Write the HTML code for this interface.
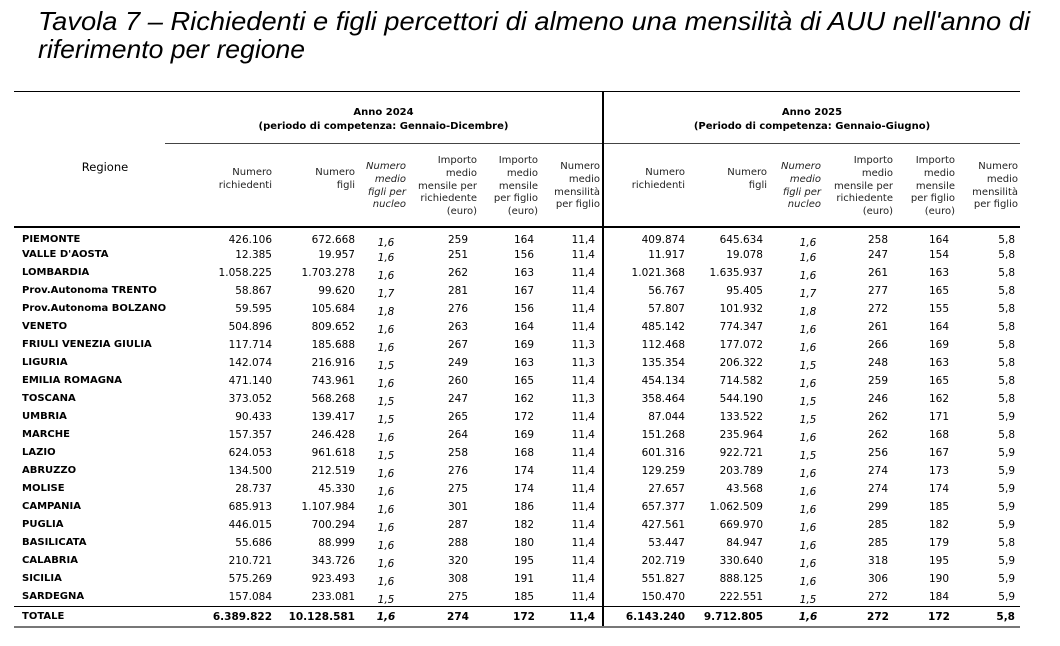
<!DOCTYPE html>
<html><head><meta charset="utf-8">
<style>
body{margin:0;background:#fff;width:1060px;height:646px;position:relative;overflow:hidden;font-family:"DejaVu Sans","Liberation Sans",sans-serif;color:#000}
.a{position:absolute}
.ln{position:absolute;background:#000}
.r{position:absolute;height:18px;left:0;width:1060px;font-size:10.5px;line-height:14px}
.r span{position:absolute;top:0;white-space:nowrap}
.n{left:22px;font-weight:bold;font-size:10px}
.c1{left:192px;width:80px;text-align:right}
.c2{left:275px;width:80px;text-align:right}
.c3{left:361px;width:50px;text-align:center;font-style:italic;top:3px!important}
.c4{left:423px;width:70px;text-align:center}
.c5{left:494px;width:60px;text-align:center}
.c6{left:545px;width:50px;text-align:right}
.c7{left:605px;width:80px;text-align:right}
.c8{left:683px;width:80px;text-align:right}
.c9{left:783px;width:50px;text-align:center;font-style:italic;top:3px!important}
.c10{left:843px;width:70px;text-align:center}
.c11{left:909px;width:60px;text-align:center}
.c12{left:965px;width:50px;text-align:right}
.h{position:absolute;font-size:10px;line-height:12.8px;text-align:right;color:#222}
.hi{font-style:italic}
.tot span{font-weight:bold}
</style></head><body>
<svg class="a" style="left:0;top:0" width="1060" height="70">
<text x="38" y="30" font-family="Liberation Sans, sans-serif" font-style="italic" font-size="26" textLength="992" lengthAdjust="spacingAndGlyphs">Tavola 7 – Richiedenti e figli percettori di almeno una mensilità di AUU nell'anno di</text>
<text x="38" y="58" font-family="Liberation Sans, sans-serif" font-style="italic" font-size="26" textLength="267" lengthAdjust="spacingAndGlyphs">riferimento per regione</text>
</svg>
<div class="ln" style="left:14px;top:91px;width:1006px;height:1px"></div>
<div class="ln" style="left:165px;top:143px;width:855px;height:1px;background:#444"></div>
<div class="ln" style="left:14px;top:226px;width:1006px;height:2px"></div>
<div class="ln" style="left:602px;top:91px;width:2px;height:536px"></div>
<div class="ln" style="left:14px;top:606px;width:1006px;height:1px"></div>
<div class="ln" style="left:14px;top:626px;width:1006px;height:2px;background:#777"></div>

<div class="a" style="left:165px;top:106px;width:437px;text-align:center;font-size:10px;font-weight:bold;line-height:14px">Anno 2024<br>(periodo di competenza: Gennaio-Dicembre)</div>
<div class="a" style="left:604px;top:106px;width:416px;text-align:center;font-size:10px;font-weight:bold;line-height:14px">Anno 2025<br>(Periodo di competenza: Gennaio-Giugno)</div>
<div class="a" style="left:75px;top:160px;width:60px;text-align:center;font-size:11.5px">Regione</div>

<div class="h" style="left:192px;top:167px;width:80px">Numero<br>richiedenti</div>
<div class="h" style="left:295px;top:167px;width:60px">Numero<br>figli</div>
<div class="h hi" style="left:346px;top:161px;width:60px">Numero<br>medio<br>figli per<br>nucleo</div>
<div class="h" style="left:400px;top:155px;width:77px">Importo<br>medio<br>mensile per<br>richiedente<br>(euro)</div>
<div class="h" style="left:476px;top:155px;width:62px">Importo<br>medio<br>mensile<br>per figlio<br>(euro)</div>
<div class="h" style="left:535px;top:161px;width:65px">Numero<br>medio<br>mensilità<br>per figlio</div>

<div class="h" style="left:605px;top:167px;width:80px">Numero<br>richiedenti</div>
<div class="h" style="left:705px;top:167px;width:62px">Numero<br>figli</div>
<div class="h hi" style="left:761px;top:161px;width:60px">Numero<br>medio<br>figli per<br>nucleo</div>
<div class="h" style="left:815px;top:155px;width:78px">Importo<br>medio<br>mensile per<br>richiedente<br>(euro)</div>
<div class="h" style="left:893px;top:155px;width:62px">Importo<br>medio<br>mensile<br>per figlio<br>(euro)</div>
<div class="h" style="left:953px;top:161px;width:65px">Numero<br>medio<br>mensilità<br>per figlio</div>

<div class="r" style="top:233px"><span class="n">PIEMONTE</span><span class="c1">426.106</span><span class="c2">672.668</span><span class="c3">1,6</span><span class="c4">259</span><span class="c5">164</span><span class="c6">11,4</span><span class="c7">409.874</span><span class="c8">645.634</span><span class="c9">1,6</span><span class="c10">258</span><span class="c11">164</span><span class="c12">5,8</span></div>
<div class="r" style="top:248px"><span class="n">VALLE D'AOSTA</span><span class="c1">12.385</span><span class="c2">19.957</span><span class="c3">1,6</span><span class="c4">251</span><span class="c5">156</span><span class="c6">11,4</span><span class="c7">11.917</span><span class="c8">19.078</span><span class="c9">1,6</span><span class="c10">247</span><span class="c11">154</span><span class="c12">5,8</span></div>
<div class="r" style="top:266px"><span class="n">LOMBARDIA</span><span class="c1">1.058.225</span><span class="c2">1.703.278</span><span class="c3">1,6</span><span class="c4">262</span><span class="c5">163</span><span class="c6">11,4</span><span class="c7">1.021.368</span><span class="c8">1.635.937</span><span class="c9">1,6</span><span class="c10">261</span><span class="c11">163</span><span class="c12">5,8</span></div>
<div class="r" style="top:284px"><span class="n">Prov.Autonoma TRENTO</span><span class="c1">58.867</span><span class="c2">99.620</span><span class="c3">1,7</span><span class="c4">281</span><span class="c5">167</span><span class="c6">11,4</span><span class="c7">56.767</span><span class="c8">95.405</span><span class="c9">1,7</span><span class="c10">277</span><span class="c11">165</span><span class="c12">5,8</span></div>
<div class="r" style="top:302px"><span class="n">Prov.Autonoma BOLZANO</span><span class="c1">59.595</span><span class="c2">105.684</span><span class="c3">1,8</span><span class="c4">276</span><span class="c5">156</span><span class="c6">11,4</span><span class="c7">57.807</span><span class="c8">101.932</span><span class="c9">1,8</span><span class="c10">272</span><span class="c11">155</span><span class="c12">5,8</span></div>
<div class="r" style="top:320px"><span class="n">VENETO</span><span class="c1">504.896</span><span class="c2">809.652</span><span class="c3">1,6</span><span class="c4">263</span><span class="c5">164</span><span class="c6">11,4</span><span class="c7">485.142</span><span class="c8">774.347</span><span class="c9">1,6</span><span class="c10">261</span><span class="c11">164</span><span class="c12">5,8</span></div>
<div class="r" style="top:338px"><span class="n">FRIULI VENEZIA GIULIA</span><span class="c1">117.714</span><span class="c2">185.688</span><span class="c3">1,6</span><span class="c4">267</span><span class="c5">169</span><span class="c6">11,3</span><span class="c7">112.468</span><span class="c8">177.072</span><span class="c9">1,6</span><span class="c10">266</span><span class="c11">169</span><span class="c12">5,8</span></div>
<div class="r" style="top:356px"><span class="n">LIGURIA</span><span class="c1">142.074</span><span class="c2">216.916</span><span class="c3">1,5</span><span class="c4">249</span><span class="c5">163</span><span class="c6">11,3</span><span class="c7">135.354</span><span class="c8">206.322</span><span class="c9">1,5</span><span class="c10">248</span><span class="c11">163</span><span class="c12">5,8</span></div>
<div class="r" style="top:374px"><span class="n">EMILIA ROMAGNA</span><span class="c1">471.140</span><span class="c2">743.961</span><span class="c3">1,6</span><span class="c4">260</span><span class="c5">165</span><span class="c6">11,4</span><span class="c7">454.134</span><span class="c8">714.582</span><span class="c9">1,6</span><span class="c10">259</span><span class="c11">165</span><span class="c12">5,8</span></div>
<div class="r" style="top:392px"><span class="n">TOSCANA</span><span class="c1">373.052</span><span class="c2">568.268</span><span class="c3">1,5</span><span class="c4">247</span><span class="c5">162</span><span class="c6">11,3</span><span class="c7">358.464</span><span class="c8">544.190</span><span class="c9">1,5</span><span class="c10">246</span><span class="c11">162</span><span class="c12">5,8</span></div>
<div class="r" style="top:410px"><span class="n">UMBRIA</span><span class="c1">90.433</span><span class="c2">139.417</span><span class="c3">1,5</span><span class="c4">265</span><span class="c5">172</span><span class="c6">11,4</span><span class="c7">87.044</span><span class="c8">133.522</span><span class="c9">1,5</span><span class="c10">262</span><span class="c11">171</span><span class="c12">5,9</span></div>
<div class="r" style="top:428px"><span class="n">MARCHE</span><span class="c1">157.357</span><span class="c2">246.428</span><span class="c3">1,6</span><span class="c4">264</span><span class="c5">169</span><span class="c6">11,4</span><span class="c7">151.268</span><span class="c8">235.964</span><span class="c9">1,6</span><span class="c10">262</span><span class="c11">168</span><span class="c12">5,8</span></div>
<div class="r" style="top:446px"><span class="n">LAZIO</span><span class="c1">624.053</span><span class="c2">961.618</span><span class="c3">1,5</span><span class="c4">258</span><span class="c5">168</span><span class="c6">11,4</span><span class="c7">601.316</span><span class="c8">922.721</span><span class="c9">1,5</span><span class="c10">256</span><span class="c11">167</span><span class="c12">5,9</span></div>
<div class="r" style="top:464px"><span class="n">ABRUZZO</span><span class="c1">134.500</span><span class="c2">212.519</span><span class="c3">1,6</span><span class="c4">276</span><span class="c5">174</span><span class="c6">11,4</span><span class="c7">129.259</span><span class="c8">203.789</span><span class="c9">1,6</span><span class="c10">274</span><span class="c11">173</span><span class="c12">5,9</span></div>
<div class="r" style="top:482px"><span class="n">MOLISE</span><span class="c1">28.737</span><span class="c2">45.330</span><span class="c3">1,6</span><span class="c4">275</span><span class="c5">174</span><span class="c6">11,4</span><span class="c7">27.657</span><span class="c8">43.568</span><span class="c9">1,6</span><span class="c10">274</span><span class="c11">174</span><span class="c12">5,9</span></div>
<div class="r" style="top:500px"><span class="n">CAMPANIA</span><span class="c1">685.913</span><span class="c2">1.107.984</span><span class="c3">1,6</span><span class="c4">301</span><span class="c5">186</span><span class="c6">11,4</span><span class="c7">657.377</span><span class="c8">1.062.509</span><span class="c9">1,6</span><span class="c10">299</span><span class="c11">185</span><span class="c12">5,9</span></div>
<div class="r" style="top:518px"><span class="n">PUGLIA</span><span class="c1">446.015</span><span class="c2">700.294</span><span class="c3">1,6</span><span class="c4">287</span><span class="c5">182</span><span class="c6">11,4</span><span class="c7">427.561</span><span class="c8">669.970</span><span class="c9">1,6</span><span class="c10">285</span><span class="c11">182</span><span class="c12">5,9</span></div>
<div class="r" style="top:536px"><span class="n">BASILICATA</span><span class="c1">55.686</span><span class="c2">88.999</span><span class="c3">1,6</span><span class="c4">288</span><span class="c5">180</span><span class="c6">11,4</span><span class="c7">53.447</span><span class="c8">84.947</span><span class="c9">1,6</span><span class="c10">285</span><span class="c11">179</span><span class="c12">5,8</span></div>
<div class="r" style="top:554px"><span class="n">CALABRIA</span><span class="c1">210.721</span><span class="c2">343.726</span><span class="c3">1,6</span><span class="c4">320</span><span class="c5">195</span><span class="c6">11,4</span><span class="c7">202.719</span><span class="c8">330.640</span><span class="c9">1,6</span><span class="c10">318</span><span class="c11">195</span><span class="c12">5,9</span></div>
<div class="r" style="top:572px"><span class="n">SICILIA</span><span class="c1">575.269</span><span class="c2">923.493</span><span class="c3">1,6</span><span class="c4">308</span><span class="c5">191</span><span class="c6">11,4</span><span class="c7">551.827</span><span class="c8">888.125</span><span class="c9">1,6</span><span class="c10">306</span><span class="c11">190</span><span class="c12">5,9</span></div>
<div class="r" style="top:590px"><span class="n">SARDEGNA</span><span class="c1">157.084</span><span class="c2">233.081</span><span class="c3">1,5</span><span class="c4">275</span><span class="c5">185</span><span class="c6">11,4</span><span class="c7">150.470</span><span class="c8">222.551</span><span class="c9">1,5</span><span class="c10">272</span><span class="c11">184</span><span class="c12">5,9</span></div>
<div class="r tot" style="top:610px"><span class="n">TOTALE</span><span class="c1">6.389.822</span><span class="c2">10.128.581</span><span class="c3" style="top:0!important">1,6</span><span class="c4">274</span><span class="c5">172</span><span class="c6">11,4</span><span class="c7">6.143.240</span><span class="c8">9.712.805</span><span class="c9" style="top:0!important">1,6</span><span class="c10">272</span><span class="c11">172</span><span class="c12">5,8</span></div>
</body></html>
